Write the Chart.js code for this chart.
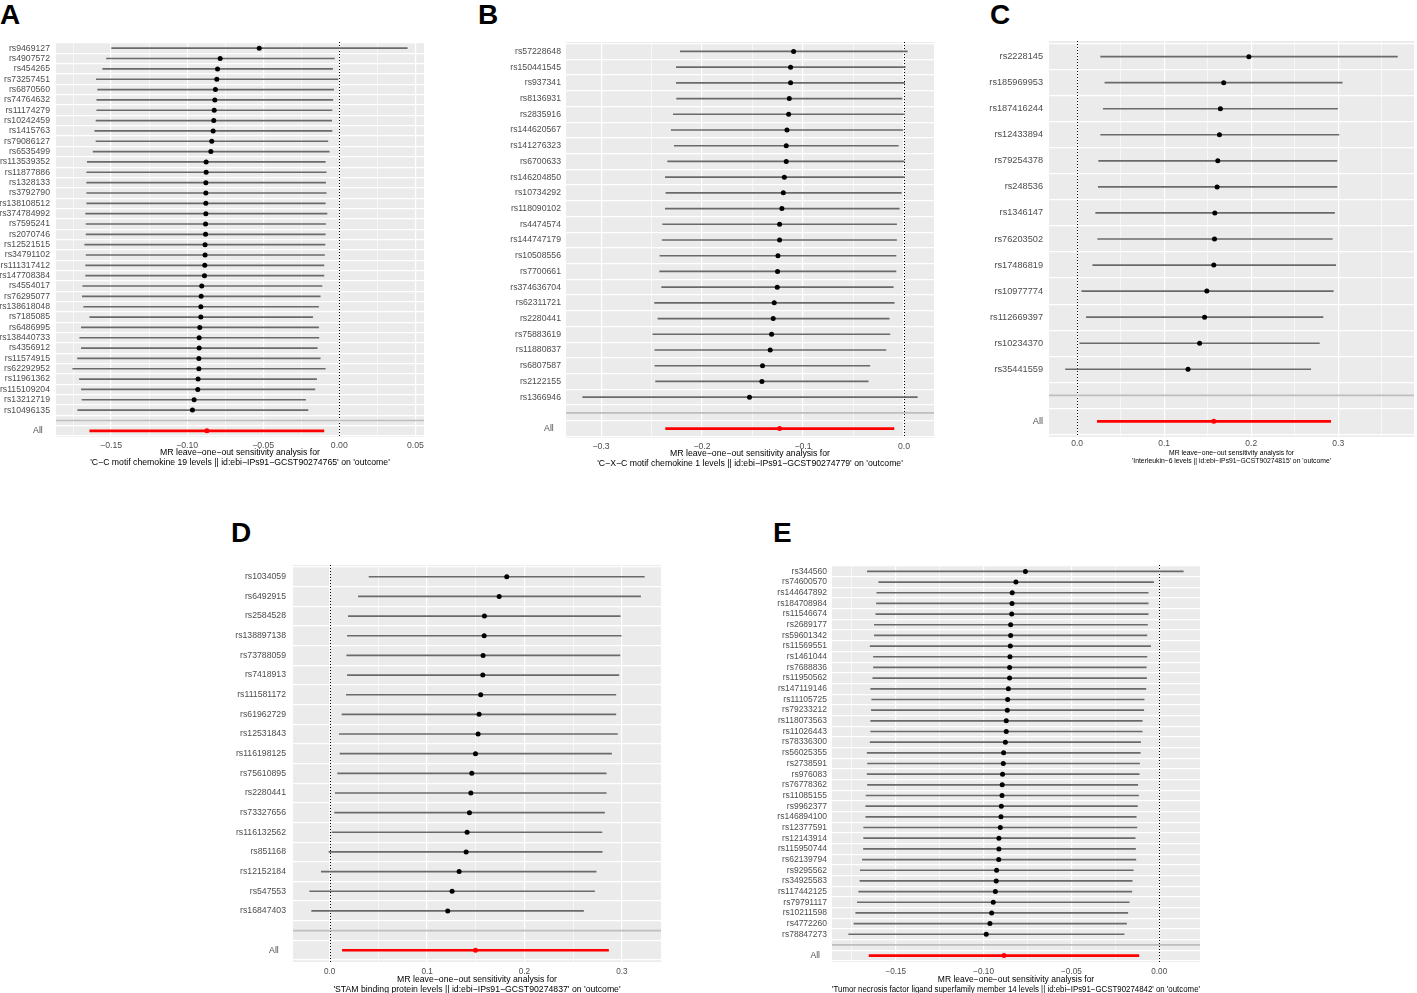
<!DOCTYPE html>
<html>
<head>
<meta charset="utf-8">
<script src="https://cdn.jsdelivr.net/npm/chart.js@4.4.0/dist/chart.umd.min.js"></script>
<style>
  body { margin: 0; width: 1417px; height: 993px; background: #fff; position: relative; overflow: hidden; font-family: "Liberation Sans", Arial, sans-serif; }
  canvas { position: absolute; }
  .tag { position: absolute; font-weight: bold; font-size: 28px; line-height: 28px; color: #000; }
</style>
</head>
<body>
<div class="tag" style="left:0px;top:1px">A</div>
<div class="tag" style="left:478px;top:1px">B</div>
<div class="tag" style="left:990px;top:1px">C</div>
<div class="tag" style="left:231px;top:519px">D</div>
<div class="tag" style="left:773px;top:519px">E</div>
<canvas id="pa"></canvas>
<canvas id="pb"></canvas>
<canvas id="pc"></canvas>
<canvas id="pd"></canvas>
<canvas id="pe"></canvas>
<script>
// ---- panel A: C-C motif chemokine 19
const aSnps = ["rs9469127","rs4907572","rs454265","rs73257451","rs6870560","rs74764632","rs11174279","rs10242459","rs1415763","rs79086127","rs6535499","rs113539352","rs11877886","rs1328133","rs3792790","rs138108512","rs374784992","rs7595241","rs2070746","rs12521515","rs34791102","rs111317412","rs147708384","rs4554017","rs76295077","rs138618048","rs7185085","rs6486995","rs138440733","rs4356912","rs11574915","rs62292952","rs11961362","rs115109204","rs13212719","rs10496135"];
const aEst = [-0.0526,-0.0783,-0.0800,-0.0805,-0.0814,-0.0818,-0.0822,-0.0825,-0.0829,-0.0838,-0.0844,-0.0875,-0.0875,-0.0877,-0.0877,-0.0877,-0.0877,-0.0879,-0.0879,-0.0882,-0.0882,-0.0884,-0.0886,-0.0904,-0.0908,-0.0910,-0.0910,-0.0917,-0.0921,-0.0921,-0.0923,-0.0923,-0.0928,-0.0930,-0.0954,-0.0965];
const aLo = [-0.1496,-0.1530,-0.1555,-0.1597,-0.1588,-0.1594,-0.1594,-0.1599,-0.1607,-0.1599,-0.1618,-0.1656,-0.1660,-0.1660,-0.1660,-0.1660,-0.1667,-0.1664,-0.1664,-0.1673,-0.1664,-0.1667,-0.1667,-0.1686,-0.1689,-0.1680,-0.1640,-0.1695,-0.1706,-0.1695,-0.1720,-0.1752,-0.1708,-0.1695,-0.1691,-0.1719];
const aHi = [0.0447,-0.0032,-0.0044,-0.0009,-0.0037,-0.0042,-0.0048,-0.0050,-0.0048,-0.0075,-0.0066,-0.0092,-0.0086,-0.0090,-0.0086,-0.0092,-0.0081,-0.0090,-0.0092,-0.0094,-0.0097,-0.0101,-0.0101,-0.0114,-0.0125,-0.0136,-0.0175,-0.0136,-0.0134,-0.0145,-0.0125,-0.0092,-0.0149,-0.0160,-0.0221,-0.0206];
const aAll = [-0.0870, -0.1640, -0.0101]; // estimate, lower, upper

// ---- panel B: C-X-C motif chemokine 1
const bSnps = ["rs57228648","rs150441545","rs937341","rs8136931","rs2835916","rs144620567","rs141276323","rs6700633","rs146204850","rs10734292","rs118090102","rs4474574","rs144747179","rs10508556","rs7700661","rs374636704","rs62311721","rs2280441","rs75883619","rs11880837","rs6807587","rs2122155","rs1366946"];
const bEst = [-0.1093,-0.1123,-0.1123,-0.1136,-0.1142,-0.1159,-0.1166,-0.1166,-0.1185,-0.1195,-0.1209,-0.1232,-0.1232,-0.1248,-0.1252,-0.1255,-0.1285,-0.1295,-0.1311,-0.1325,-0.1401,-0.1407,-0.1530];
const bLo = [-0.2215,-0.2255,-0.2255,-0.2252,-0.2285,-0.2305,-0.2275,-0.2341,-0.2364,-0.2358,-0.2364,-0.2390,-0.2394,-0.2417,-0.2420,-0.2400,-0.2470,-0.2437,-0.2487,-0.2467,-0.2467,-0.2460,-0.3182];
const bHi = [0.0033,0.0013,0.0007,-0.0020,0.0007,-0.0010,-0.0056,0.0003,0.0003,-0.0026,-0.0046,-0.0073,-0.0073,-0.0079,-0.0079,-0.0106,-0.0096,-0.0146,-0.0139,-0.0179,-0.0338,-0.0354,0.0132];
const bAll = [-0.1232, -0.2361, -0.0099];

// ---- panel C: Interleukin-6
const cSnps = ["rs2228145","rs185969953","rs187416244","rs12433894","rs79254378","rs248536","rs1346147","rs76203502","rs17486819","rs10977774","rs112669397","rs10234370","rs35441559"];
const cEst = [0.1973,0.1684,0.1646,0.1635,0.1616,0.1608,0.1582,0.1578,0.1570,0.1490,0.1464,0.1407,0.1274];
const cLo = [0.0270,0.0319,0.0300,0.0270,0.0247,0.0243,0.0213,0.0236,0.0179,0.0053,0.0106,0.0030,-0.0133];
const cHi = [0.3680,0.3046,0.2992,0.3008,0.2985,0.2985,0.2958,0.2932,0.2970,0.2943,0.2825,0.2783,0.2684];
const cAll = [0.1570, 0.0232, 0.2913];

// ---- panel D: STAM binding protein
const dSnps = ["rs1034059","rs6492915","rs2584528","rs138897138","rs73788059","rs7418913","rs111581172","rs61962729","rs12531843","rs116198125","rs75610895","rs2280441","rs73327656","rs116132562","rs851168","rs12152184","rs547553","rs16847403"];
const dEst = [0.1818,0.1740,0.1589,0.1586,0.1575,0.1572,0.1551,0.1534,0.1524,0.1497,0.1459,0.1449,0.1435,0.1411,0.1401,0.1329,0.1257,0.1212];
const dLo = [0.0404,0.0295,0.0192,0.0182,0.0175,0.0182,0.0171,0.0127,0.0099,0.0106,0.0082,0.0058,0.0051,0.0024,-0.0007,-0.0086,-0.0205,-0.0185];
const dHi = [0.3230,0.3192,0.2983,0.2993,0.2980,0.2969,0.2938,0.2938,0.2955,0.2894,0.2839,0.2839,0.2822,0.2795,0.2798,0.2736,0.2719,0.2606];
const dAll = [0.1497, 0.0130, 0.2863];

// ---- panel E: TNF ligand superfamily member 14
const eSnps = ["rs344560","rs74600570","rs144647892","rs184708984","rs11546674","rs2689177","rs59601342","rs11569551","rs1461044","rs7688836","rs11950562","rs147119146","rs11105725","rs79233212","rs118073563","rs11026443","rs78336300","rs56025355","rs2738591","rs976083","rs76778362","rs11085155","rs9962377","rs146894100","rs12377591","rs12143914","rs115950744","rs62139794","rs9295562","rs34925583","rs117442125","rs79791117","rs10211598","rs4772260","rs78847273"];
const eEst = [-0.0762,-0.0816,-0.0837,-0.0838,-0.0840,-0.0846,-0.0846,-0.0848,-0.0850,-0.0852,-0.0852,-0.0859,-0.0863,-0.0865,-0.0871,-0.0871,-0.0876,-0.0886,-0.0888,-0.0892,-0.0894,-0.0895,-0.0899,-0.0901,-0.0905,-0.0913,-0.0913,-0.0914,-0.0926,-0.0928,-0.0933,-0.0945,-0.0954,-0.0964,-0.0985];
const eLo = [-0.1662,-0.1597,-0.1608,-0.1610,-0.1614,-0.1622,-0.1622,-0.1646,-0.1627,-0.1627,-0.1631,-0.1643,-0.1637,-0.1639,-0.1643,-0.1643,-0.1646,-0.1663,-0.1661,-0.1663,-0.1661,-0.1669,-0.1671,-0.1671,-0.1683,-0.1683,-0.1684,-0.1690,-0.1702,-0.1704,-0.1711,-0.1719,-0.1728,-0.1738,-0.1768];
const eHi = [0.0137,-0.0032,-0.0063,-0.0063,-0.0063,-0.0067,-0.0070,-0.0049,-0.0070,-0.0074,-0.0072,-0.0076,-0.0086,-0.0088,-0.0097,-0.0097,-0.0106,-0.0108,-0.0112,-0.0114,-0.0122,-0.0118,-0.0124,-0.0131,-0.0127,-0.0137,-0.0135,-0.0133,-0.0148,-0.0154,-0.0156,-0.0171,-0.0179,-0.0186,-0.0200];
const eAll = [-0.0884, -0.1652, -0.0116];

const titleHead = "MR leave\u2212one\u2212out sensitivity analysis for";
const FONT = "'Liberation Sans', Arial, sans-serif";
const PAD_TOP = 18, PAD_RIGHT = 26;

const panelBg = {
  id: "panelBg",
  beforeDraw(chart) {
    const { ctx, chartArea: a } = chart;
    ctx.save();
    ctx.fillStyle = "#EBEBEB";
    ctx.fillRect(a.left, a.top, a.right - a.left, a.bottom - a.top);
    ctx.restore();
  }
};

// dotted reference line at zero
const zeroLine = {
  id: "zeroLine",
  beforeDatasetsDraw(chart) {
    const { ctx, chartArea: a, scales } = chart;
    const x = Math.round(scales.x.getPixelForValue(0)) + 0.5;
    ctx.save();
    ctx.strokeStyle = "#000";
    ctx.lineWidth = 1;
    ctx.setLineDash([1, 2]);
    ctx.beginPath();
    ctx.moveTo(x, a.top);
    ctx.lineTo(x, a.bottom);
    ctx.stroke();
    ctx.restore();
  }
};

function drawPanel(id, snps, est, lo, hi, all, cfg) {
  const labels = snps.concat(["", "All"]);
  const n = snps.length;
  const sep = n, allRow = n + 1;
  const minV = Math.min(...lo, all[1]);
  const maxV = Math.max(...hi, all[2]);
  const ext = (maxV - minV) * 0.05;
  const xmin = minV - ext, xmax = maxV + ext;

  const b = cfg.box;
  const canvas = document.getElementById(id);
  const left = b.l - b.yw, top = b.t - PAD_TOP;
  canvas.width = b.r + PAD_RIGHT - left;
  canvas.height = b.b + b.xh - top;
  canvas.style.left = left + "px";
  canvas.style.top = top + "px";

  const half = cfg.step / 2;
  const isMajor = v => Math.abs(v / cfg.step - Math.round(v / cfg.step)) < 1e-6;
  const fmt = v => (v < -1e-9 ? "\u2212" : "") + Math.abs(v).toFixed(cfg.dec);

  new Chart(canvas, {
    type: "bar",
    data: {
      datasets: [
        {
          type: "line", showLine: false,
          data: snps.map((s, i) => ({ y: i, x: est[i] })),
          pointRadius: 2.5, pointBackgroundColor: "#000", pointBorderWidth: 0
        },
        {
          type: "line", showLine: false,
          data: [{ y: allRow, x: all[0] }],
          pointRadius: 2.5, pointBackgroundColor: "#FF0000", pointBorderWidth: 0
        },
        {
          data: [{ y: allRow, x: [all[1], all[2]] }],
          backgroundColor: "#FF0000", barThickness: 2, grouped: false, borderWidth: 0
        },
        {
          data: snps.map((s, i) => ({ y: i, x: [lo[i], hi[i]] })),
          backgroundColor: "#6a6a6a", barThickness: 1, grouped: false, borderWidth: 0
        },
        {
          data: [{ y: sep, x: [xmin, xmax] }],
          backgroundColor: "#BEBEBE", barThickness: 1, grouped: false, borderWidth: 0
        }
      ]
    },
    options: {
      indexAxis: "y",
      responsive: false,
      animation: false,
      events: [],
      layout: { padding: { left: 0, right: PAD_RIGHT, top: PAD_TOP, bottom: 0 } },
      plugins: { legend: { display: false }, tooltip: { enabled: false } },
      scales: {
        x: {
          type: "linear", min: xmin, max: xmax,
          afterBuildTicks: s => {
            const ticks = [];
            for (let k = Math.ceil(xmin / half); k <= Math.floor(xmax / half); k++) ticks.push({ value: k * half });
            s.ticks = ticks;
          },
          afterFit: s => { s.height = b.xh; },
          grid: { color: "#FFFFFF", lineWidth: c => isMajor(c.tick.value) ? 1.2 : 0.6, drawTicks: false },
          border: { display: false },
          ticks: {
            autoSkip: false, maxRotation: 0, color: "#4D4D4D", padding: cfg.xPad,
            font: { family: FONT, size: cfg.xFont },
            callback: v => isMajor(v) ? fmt(v) : ""
          },
          title: {
            display: true, text: [titleHead, cfg.title], color: "#000",
            font: { family: FONT, size: cfg.tFont, lineHeight: cfg.tLh },
            padding: { top: 0, bottom: cfg.tPad }
          }
        },
        y: {
          // discrete axis with ggplot's 0.6 expansion on each side
          type: "linear", reverse: true, offset: false,
          min: -0.6, max: labels.length - 1 + 0.6,
          afterBuildTicks: s => { s.ticks = labels.map((l, i) => ({ value: i })); },
          afterFit: s => { s.width = b.yw; },
          grid: { color: "#FFFFFF", lineWidth: 1.2, drawTicks: false },
          border: { display: false },
          ticks: {
            autoSkip: false, color: "#4D4D4D", padding: cfg.yPad,
            font: { family: FONT, size: cfg.yFont },
            callback: v => v === allRow ? "All" + cfg.allPad : labels[v]
          }
        }
      }
    },
    plugins: [panelBg, zeroLine]
  });
}

drawPanel("pa", aSnps, aEst, aLo, aHi, aAll, {
  box: { l: 56, t: 42, r: 424, b: 437, yw: 56, xh: 34 },
  step: 0.05, dec: 2, xFont: 8.7, yFont: 8.7, yPad: 6, xPad: 3, allPad: "   ",
  tFont: 8.7, tLh: 1.15, tPad: 3,
  title: "'C\u2212C motif chemokine 19 levels || id:ebi\u2212IPs91\u2212GCST90274765' on 'outcome'"
});
drawPanel("pb", bSnps, bEst, bLo, bHi, bAll, {
  box: { l: 566, t: 42, r: 934, b: 438, yw: 61, xh: 34 },
  step: 0.1, dec: 1, xFont: 8.7, yFont: 8.7, yPad: 5, xPad: 3, allPad: "   ",
  tFont: 8.7, tLh: 1.15, tPad: 3,
  title: "'C\u2212X\u2212C motif chemokine 1 levels || id:ebi\u2212IPs91\u2212GCST90274779' on 'outcome'"
});
drawPanel("pc", cSnps, cEst, cLo, cHi, cAll, {
  box: { l: 1049, t: 41, r: 1414, b: 437, yw: 64, xh: 30 },
  step: 0.1, dec: 1, xFont: 8.5, yFont: 9.2, yPad: 6, xPad: 2, allPad: "",
  tFont: 6.8, tLh: 1.2, tPad: 1.5,
  title: "'Interleukin\u22126 levels || id:ebi\u2212IPs91\u2212GCST90274815' on 'outcome'"
});
drawPanel("pd", dSnps, dEst, dLo, dHi, dAll, {
  box: { l: 293, t: 565, r: 661, b: 962, yw: 63, xh: 32 },
  step: 0.1, dec: 1, xFont: 8.2, yFont: 8.7, yPad: 7, xPad: 4.5, allPad: "   ",
  tFont: 8.7, tLh: 1.1, tPad: 0,
  title: "'STAM binding protein levels || id:ebi\u2212IPs91\u2212GCST90274837' on 'outcome'"
});
drawPanel("pe", eSnps, eEst, eLo, eHi, eAll, {
  box: { l: 832, t: 565, r: 1200, b: 962, yw: 60, xh: 32 },
  step: 0.05, dec: 2, xFont: 8.2, yFont: 8.5, yPad: 5, xPad: 4.5, allPad: "   ",
  tFont: 8.5, tLh: 1.1, tPad: 0,
  title: "'Tumor necrosis factor ligand superfamily member 14 levels || id:ebi\u2212IPs91\u2212GCST90274842' on 'outcome'"
});
</script>
</body>
</html>
